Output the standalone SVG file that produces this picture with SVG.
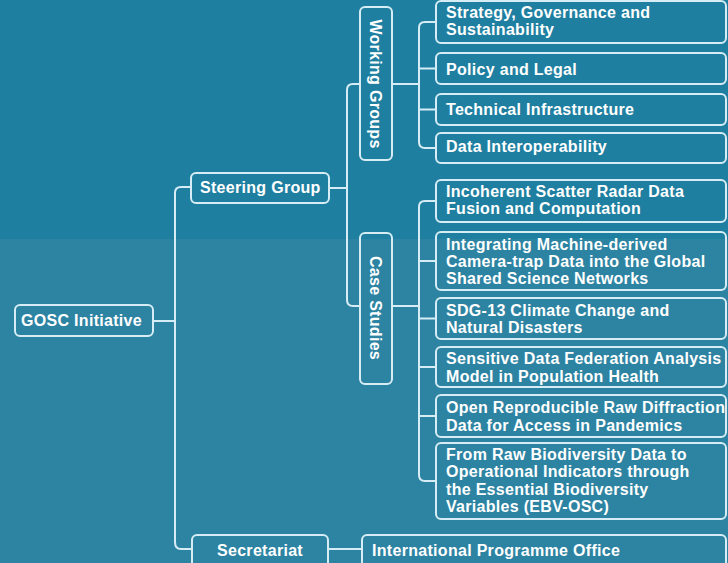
<svg xmlns="http://www.w3.org/2000/svg" width="728" height="563" viewBox="0 0 728 563">
<style>
.box{fill:none;stroke:#d6edf5;stroke-width:2}
.ln{fill:none;stroke:#d6edf5;stroke-width:2}
text{font-family:"Liberation Sans",Arial,sans-serif;font-weight:bold;font-size:16px;letter-spacing:0.3px;fill:#ffffff}
</style>
<rect x="0" y="0" width="728" height="563" fill="#2d83a2"/>
<rect x="0" y="0" width="728" height="239" fill="#1f7fa1"/>
<g id="connectors">
<path class="ln" d="M153,321 H175"/>
<path class="ln" d="M191,187 H181 Q175,187 175,193 V542 Q175,549 181,549 H192"/>
<path class="ln" d="M329,188 H347"/>
<path class="ln" d="M360,84 H353 Q347,84 347,90 V300 Q347,306 353,306 H360"/>
<path class="ln" d="M392,84 H419"/>
<path class="ln" d="M436,22 H425 Q419,22 419,28 V142 Q419,148 425,148 H436"/>
<path class="ln" d="M419,68.5 H436 M419,109.5 H436"/>
<path class="ln" d="M392,306 H419"/>
<path class="ln" d="M436,201 H425 Q419,201 419,207 V475 Q419,481 425,481 H436"/>
<path class="ln" d="M419,261 H436 M419,318.5 H436 M419,367 H436 M419,416 H436"/>
<path class="ln" d="M328,549 H362"/>
</g>
<g id="gosc"><rect class="box" x="15" y="305" width="138" height="31" rx="5"/><text x="21" y="326">GOSC Initiative</text></g>
<g id="steering"><rect class="box" x="191" y="173" width="138" height="30" rx="5"/><text x="200" y="193">Steering Group</text></g>
<g id="secretariat"><rect class="box" x="192" y="535" width="136" height="32" rx="5"/><text x="260" y="556" text-anchor="middle">Secretariat</text></g>
<g id="ipo"><rect class="box" x="362" y="535" width="364" height="32" rx="5"/><text x="372" y="556">International Programme Office</text></g>
<g id="working-groups"><rect class="box" x="360" y="7" width="32" height="153" rx="5"/><text transform="translate(376,84) rotate(90)" x="0" y="6" text-anchor="middle">Working Groups</text></g>
<g id="case-studies"><rect class="box" x="360" y="233" width="32" height="151" rx="5"/><text transform="translate(376,308) rotate(90)" x="0" y="6" text-anchor="middle">Case Studies</text></g>
<g id="wg1"><rect class="box" x="436" y="1" width="290" height="42" rx="5"/><text x="446" y="18">Strategy, Governance and</text><text x="446" y="35">Sustainability</text></g>
<g id="wg2"><rect class="box" x="436" y="53" width="290" height="31" rx="5"/><text x="446" y="75">Policy and Legal</text></g>
<g id="wg3"><rect class="box" x="436" y="94" width="290" height="31" rx="5"/><text x="446" y="115">Technical Infrastructure</text></g>
<g id="wg4"><rect class="box" x="436" y="133" width="290" height="30" rx="5"/><text x="446" y="152">Data Interoperability</text></g>
<g id="cs1"><rect class="box" x="436" y="180" width="290" height="42" rx="5"/><text x="446" y="197">Incoherent Scatter Radar Data</text><text x="446" y="214">Fusion and Computation</text></g>
<g id="cs2"><rect class="box" x="436" y="232" width="290" height="58" rx="5"/><text x="446" y="250">Integrating Machine-derived</text><text x="446" y="267">Camera-trap Data into the Global</text><text x="446" y="284">Shared Science Networks</text></g>
<g id="cs3"><rect class="box" x="436" y="298" width="290" height="41" rx="5"/><text x="446" y="316">SDG-13 Climate Change and</text><text x="446" y="333">Natural Disasters</text></g>
<g id="cs4"><rect class="box" x="436" y="347" width="290" height="40" rx="5"/><text x="446" y="364">Sensitive Data Federation Analysis</text><text x="446" y="382">Model in Population Health</text></g>
<g id="cs5"><rect class="box" x="436" y="395" width="290" height="42" rx="5"/><text x="446" y="413">Open Reproducible Raw Diffraction</text><text x="446" y="431">Data for Access in Pandemics</text></g>
<g id="cs6"><rect class="box" x="436" y="443" width="290" height="76" rx="5"/><text x="446" y="460">From Raw Biodiversity Data to</text><text x="446" y="477">Operational Indicators through</text><text x="446" y="495">the Essential Biodiversity</text><text x="446" y="512">Variables (EBV-OSC)</text></g>
</svg>
